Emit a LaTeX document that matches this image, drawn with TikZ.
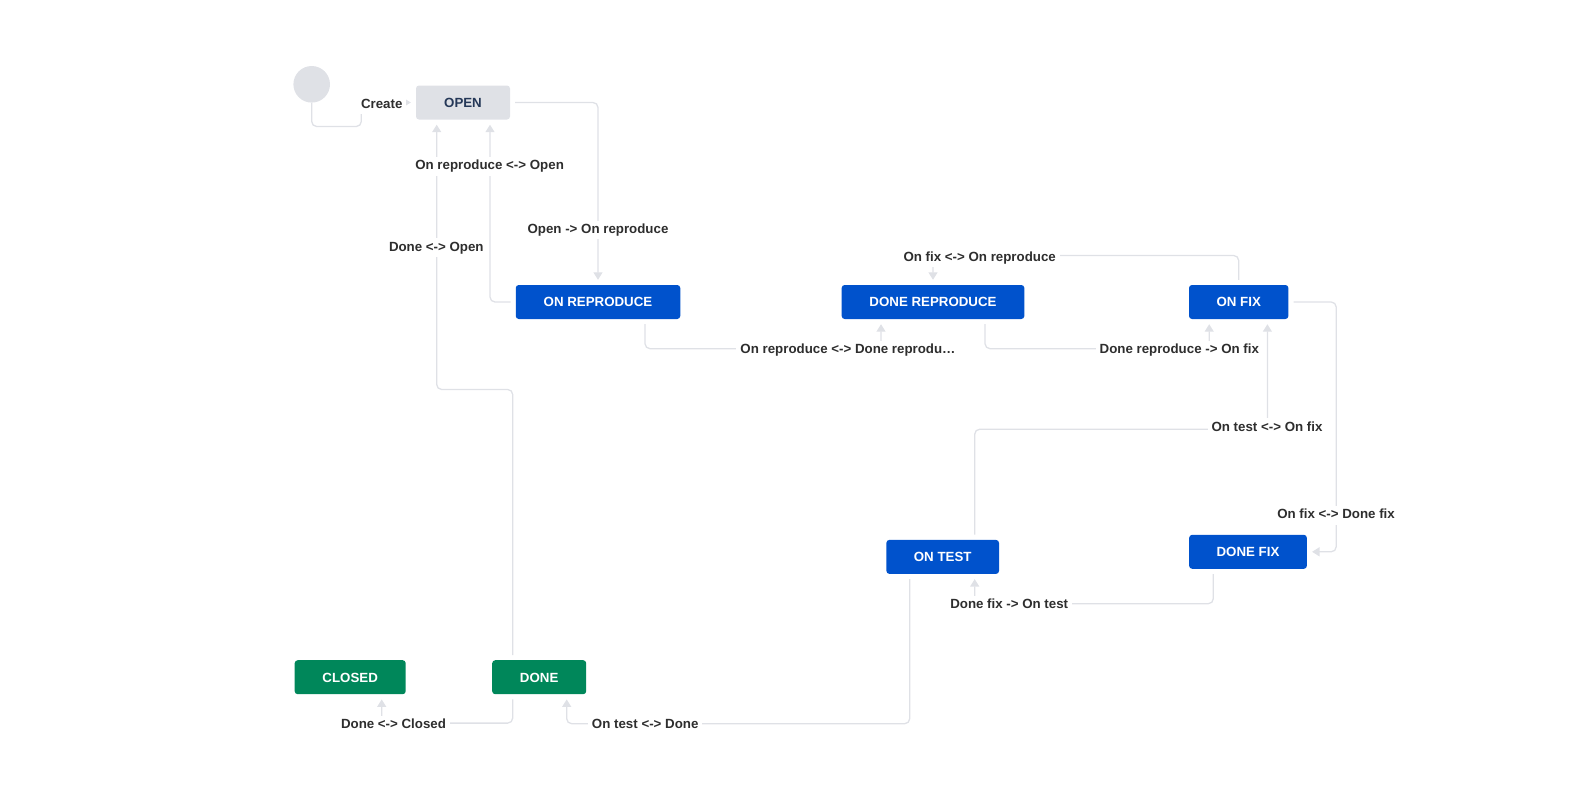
\documentclass[tikz,border=0pt]{standalone}
\usepackage{fontspec}
\setmainfont{Liberation Sans}
\usetikzlibrary{arrows.meta}
\definecolor{linegray}{HTML}{DFE1E6}
\definecolor{bluestate}{HTML}{0052CC}
\definecolor{greenstate}{HTML}{00875A}
\definecolor{openfill}{HTML}{DFE1E6}
\definecolor{opentext}{HTML}{253858}
\definecolor{labeltext}{HTML}{2E2E2E}
\begin{document}
\begin{tikzpicture}[x=1pt,y=-1pt,
  statebox/.style={rectangle, rounded corners=3pt, minimum height=34pt, inner sep=0pt,
    font=\fontsize{13.3}{16}\selectfont\bfseries, text height=9.6pt, text depth=0pt},
  bluebox/.style={statebox, fill=bluestate, text=white},
  greenbox/.style={statebox, fill=greenstate, text=white},
  graybox/.style={statebox, fill=openfill, text=opentext},
  conn/.style={draw=linegray, line width=1.3pt, rounded corners=5pt,
    -{Triangle[length=7.5pt,width=9pt]}, shorten <=5pt, shorten >=5pt},
  lbl/.style={fill=white, inner xsep=4pt, inner ysep=3pt, text=labeltext, yshift=-1.8pt,
    font=\fontsize{13.3}{16}\selectfont\bfseries, text height=9.6pt, text depth=2.8pt}
]
\useasboundingbox (0,0) rectangle (1592,801);

% states
\node[circle, fill=openfill, minimum size=36.6pt, inner sep=0pt] (start) at (311.7,84.3) {};
\node[graybox, minimum width=94pt] (open) at (463,102.5) {OPEN};
\node[bluebox, minimum width=164.5pt] (onrep) at (598,302) {ON REPRODUCE};
\node[bluebox, minimum width=182.7pt] (donerep) at (933,302) {DONE REPRODUCE};
\node[bluebox, minimum width=99.4pt] (onfix) at (1238.7,302) {ON FIX};
\node[bluebox, minimum width=112.6pt] (ontest) at (942.7,556.9) {ON TEST};
\node[bluebox, minimum width=117.7pt] (donefix) at (1248,551.8) {DONE FIX};
\node[greenbox, minimum width=111pt] (closed) at (350.2,677.2) {CLOSED};
\node[greenbox, minimum width=94pt] (done) at (539.2,677.2) {DONE};

% transitions
\draw[conn, shorten <=0pt] (start.south) |- (361.3,126.5) |- (open.west);
\draw[conn] ([xshift=-26.5]done.north) |- (436.7,389.5) -- ([xshift=-26.3]open.south);
\draw[conn] (onrep.west) -| ([xshift=27]open.south);
\draw[conn] (open.east) -| (onrep.north);
\draw[conn] ([xshift=47]onrep.south) -- ++(0,29.5) -| ([xshift=-52]donerep.south);
\draw[conn] ([xshift=52]donerep.south) -- ++(0,29.5) -| ([xshift=-29.5]onfix.south);
\draw[conn] (onfix.north) -- ++(0,-29.3) -| (donerep.north);
\draw[conn] ([xshift=32]ontest.north) -- ++(0,-110.5) -| ([xshift=28.7]onfix.south);
\draw[conn] (onfix.east) -- ++(47.6,0) |- (donefix.east);
\draw[conn] ([xshift=-34.7]donefix.south) -- ++(0,34.7) -| ([xshift=32]ontest.south);
\draw[conn] ([xshift=-33]ontest.south) -- ++(0,149.6) -| ([xshift=27.5]done.south);
\draw[conn] ([xshift=-26.5]done.south) -- ++(0,28.7) -| ([xshift=31.5]closed.south);

% transition labels
\node[lbl] (lcreate) at (381.7,102.8) {Create};
\node[lbl] (lrepopen) at (489.6,164.6) {On reproduce <-> Open};
\node[lbl] (ldoneopen) at (436.3,245.8) {Done <-> Open};
\node[lbl] (lopenrep) at (598,228.4) {Open -> On reproduce};
\node[lbl] (lrepdone) at (848,348.3) {On reproduce <-> Done reprodu…};
\node[lbl] (ldonerepfix) at (1179.3,348.3) {Done reproduce -> On fix};
\node[lbl] (lfixrep) at (979.7,255.9) {On fix <-> On reproduce};
\node[lbl] (ltestfix) at (1267,425.8) {On test <-> On fix};
\node[lbl] (lfixdonefix) at (1336,513.7) {On fix <-> Done fix};
\node[lbl] (ldonefixtest) at (1009.2,603) {Done fix -> On test};
\node[lbl] (ltestdone) at (645.2,723) {On test <-> Done};
\node[lbl] (ldoneclosed) at (393.5,723) {Done <-> Closed};
\end{tikzpicture}
\end{document}
